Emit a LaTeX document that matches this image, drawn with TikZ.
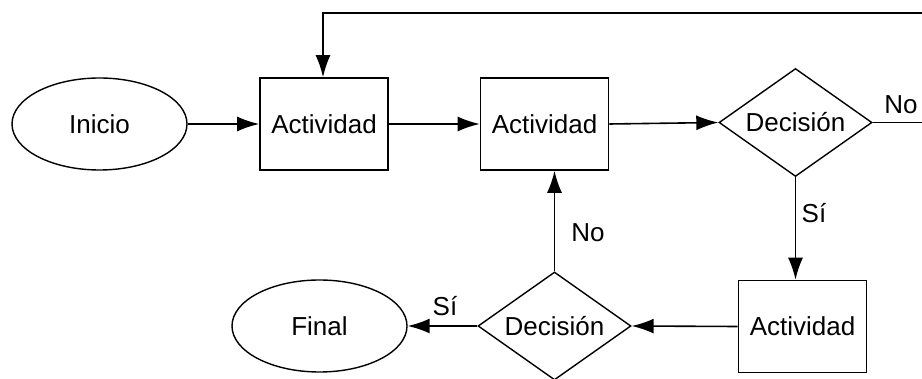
\documentclass[tikz,border=0pt]{standalone}
\usepackage{fontspec}
\setmainfont{Liberation Sans}
\usetikzlibrary{shapes.geometric,arrows.meta}

\begin{document}
\begin{tikzpicture}[x=1pt,y=-1pt,
  every node/.style={font=\fontsize{26}{30}\selectfont, inner sep=0pt},
  flowline/.style={line width=1.6pt},
  flowarrow/.style={flowline, -{Latex[length=22pt,width=15pt]}},
  terminal/.style={ellipse, draw, line width=1.4pt, minimum width=175pt, minimum height=92pt},
  activity/.style={rectangle, draw, line width=1.6pt, minimum width=128pt, minimum height=92pt},
  decision/.style={diamond, draw, line width=1.4pt, aspect=1.4, minimum width=153pt, minimum height=108pt},
  branch/.style={font=\fontsize{26}{30}\selectfont}
]
\useasboundingbox (0,0) rectangle (922,379);
\clip (0,0) rectangle (922,379);

% main row
\node[terminal] (start) at (99.5,124) {Inicio};
\node[activity] (act1) at (324,124) {Actividad};
\node[activity] (act2) at (544.5,124) {Actividad};
\node[decision] (dec1) at (795.5,122.5) {Decisión};

% lower row
\node[activity] (act3) at (802.5,326.5) {Actividad};
\node[decision] (dec2) at (554.5,326) {Decisión};
\node[terminal] (final) at (319.5,326) {Final};

% loop-back route leaving the picture on the right
\coordinate (outR) at (940,122.5);
\coordinate (outTop) at (940,13);
\coordinate (topL) at (323,13);

% connectors
\draw[flowarrow] (start.east) -- (act1.west);
\draw[flowarrow] (act1.east) -- (act2.west);
\draw[flowarrow] (act2.east) -- (dec1.west);
\draw[flowarrow] (dec1.south) -- (dec1.south |- act3.north);
\draw[flowarrow] (act3.west) -- (dec2.east);
\draw[flowarrow] (dec2.west) -- (final.east);
\draw[flowarrow] (dec2.north) -- (dec2.north |- act2.south);
\draw[flowarrow] (dec1.east) -- (outR) -- (outTop) -- (topL) -- (topL |- act1.north);

% branch labels
\node[branch] (lno1) at (901,105) {No};
\node[branch] (lsi1) at (814,213) {Sí};
\node[branch] (lno2) at (588,233) {No};
\node[branch] (lsi2) at (445,306) {Sí};
\end{tikzpicture}
\end{document}
